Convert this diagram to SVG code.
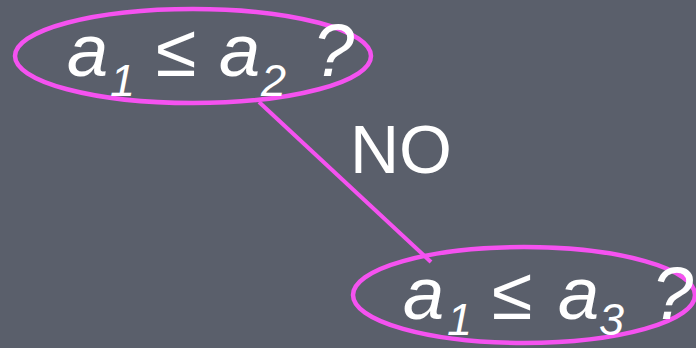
<svg xmlns="http://www.w3.org/2000/svg" width="696" height="348" viewBox="0 0 696 348">
<style>
.bg{fill:#5a5f6b}
.node{fill:none;stroke:#f552f0;stroke-width:4.5}
.edge{stroke:#f552f0;stroke-width:4;fill:none}
.t{font-family:"Liberation Sans",Arial,sans-serif;fill:#ffffff;font-style:italic;font-size:74px}
.s{font-family:"Liberation Sans",Arial,sans-serif;fill:#ffffff;font-style:italic;font-size:45px}
.lbl{font-family:"Liberation Sans",Arial,sans-serif;fill:#ffffff;font-size:68px}
</style>
<rect class="bg" x="0" y="0" width="696" height="348"/>
<g id="connectors">
<line class="edge" x1="259" y1="102" x2="431" y2="262"/>
<text class="lbl" x="350" y="173">NO</text>
</g>
<g id="node1">
<ellipse class="node" cx="193" cy="56" rx="178" ry="47"/>
<text class="t" x="67" y="76">a</text>
<text class="s" x="110" y="96">1</text>
<text class="t" x="156" y="76">≤</text>
<text class="t" x="219" y="76">a</text>
<text class="s" x="261" y="96">2</text>
<text class="t" x="313" y="76">?</text>
</g>
<g id="node2">
<ellipse class="node" cx="524" cy="295" rx="171" ry="48"/>
<text class="t" x="403" y="319">a</text>
<text class="s" x="447" y="335">1</text>
<text class="t" x="492" y="319">≤</text>
<text class="t" x="558" y="319">a</text>
<text class="s" x="599" y="335">3</text>
<text class="t" x="652" y="319">?</text>
</g>
</svg>
